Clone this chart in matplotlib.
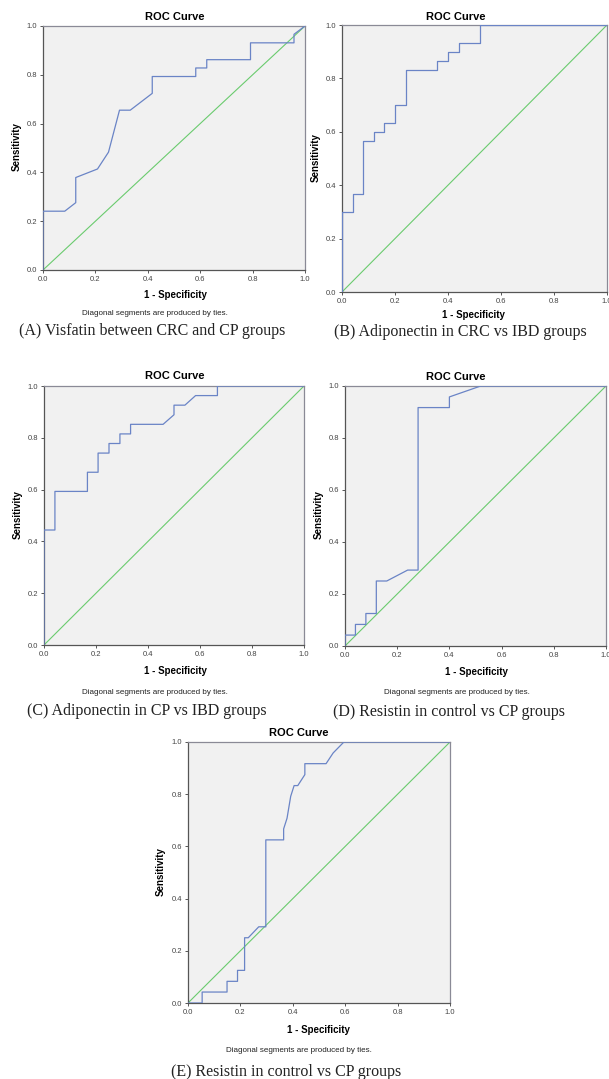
import matplotlib
matplotlib.use('Agg')
import matplotlib.pyplot as plt

# ROC curve points (1 - specificity, sensitivity)
fpr_a = [0, 0, 0.083, 0.125, 0.125, 0.208, 0.25, 0.292, 0.333, 0.417, 0.417, 0.583, 0.583,
         0.625, 0.625, 0.792, 0.792, 0.958, 0.958, 1.0]
tpr_a = [0, 0.241, 0.241, 0.276, 0.379, 0.414, 0.483, 0.655, 0.655, 0.724, 0.793, 0.793, 0.828,
         0.828, 0.862, 0.862, 0.931, 0.931, 0.966, 1.0]

fpr_b = [0, 0, 0.04, 0.04, 0.08, 0.08, 0.12, 0.12, 0.16, 0.16, 0.2, 0.2, 0.24, 0.24, 0.36, 0.36,
         0.4, 0.4, 0.44, 0.44, 0.52, 0.52, 1.0]
tpr_b = [0, 0.3, 0.3, 0.367, 0.367, 0.567, 0.567, 0.6, 0.6, 0.633, 0.633, 0.7, 0.7, 0.833, 0.833,
         0.867, 0.867, 0.9, 0.9, 0.933, 0.933, 1.0, 1.0]

fpr_c = [0, 0, 0.042, 0.042, 0.167, 0.167, 0.208, 0.208, 0.25, 0.25, 0.292, 0.292, 0.333, 0.333,
         0.458, 0.5, 0.5, 0.542, 0.583, 0.667, 0.667, 1.0]
tpr_c = [0, 0.444, 0.444, 0.593, 0.593, 0.667, 0.667, 0.741, 0.741, 0.778, 0.778, 0.815, 0.815,
         0.852, 0.852, 0.889, 0.926, 0.926, 0.963, 0.963, 1.0, 1.0]

fpr_d = [0, 0, 0.04, 0.04, 0.08, 0.08, 0.12, 0.12, 0.16, 0.24, 0.28, 0.28, 0.4, 0.4, 0.52, 1.0]
tpr_d = [0, 0.042, 0.042, 0.083, 0.083, 0.125, 0.125, 0.25, 0.25, 0.292, 0.292, 0.917, 0.917,
         0.958, 1.0, 1.0]

fpr_e = [0, 0.054, 0.054, 0.149, 0.149, 0.189, 0.189, 0.216, 0.216, 0.23, 0.27, 0.297, 0.297,
         0.365, 0.365, 0.378, 0.392, 0.405, 0.419, 0.446, 0.446, 0.527, 0.554, 0.595, 1.0]
tpr_e = [0, 0, 0.042, 0.042, 0.083, 0.083, 0.125, 0.125, 0.25, 0.25, 0.292, 0.292, 0.625,
         0.625, 0.667, 0.708, 0.792, 0.833, 0.833, 0.875, 0.917, 0.917, 0.958, 1.0, 1.0]

ticks = [0.0, 0.2, 0.4, 0.6, 0.8, 1.0]
tick_labels = ['0.0', '0.2', '0.4', '0.6', '0.8', '1.0']

captions = ['(A) Visfatin between CRC and CP groups',
            '(B) Adiponectin in CRC vs IBD groups',
            '(C) Adiponectin in CP vs IBD groups',
            '(D) Resistin in control vs CP groups',
            '(E) Resistin in control vs CP groups']

W, H = 609, 1079
fig = plt.figure(figsize=(W / 100, H / 100), dpi=100)
fig.patch.set_facecolor('white')

SANS = 'Liberation Sans'
SERIF = 'Liberation Serif'
BLUE = '#6a84c6'
GREEN = '#6acb6e'


def ftext(x, y, s, **kw):
    # x, y in pixels from top-left
    fig.text(x / W, 1 - y / H, s, ha='center', va='center', **kw)


def panel(box, fpr, tpr, title_x, title_y, ylab, xlab, note, cap):
    l, r, t, b = box
    ax = fig.add_axes([l / W, 1 - b / H, (r - l) / W, (b - t) / H])
    ax.set_facecolor('#f1f1f1')
    ax.plot([0, 1], [0, 1], color=GREEN, lw=0.8, zorder=2)
    ax.plot(fpr, tpr, color=BLUE, lw=0.9, zorder=3)
    ax.set_xlim(0, 1)
    ax.set_ylim(0, 1)
    ax.set_xticks(ticks)
    ax.set_yticks(ticks)
    ax.set_xticklabels(tick_labels, fontfamily=SANS, fontsize=5.5, color='#444444')
    ax.set_yticklabels(tick_labels, fontfamily=SANS, fontsize=5.5, color='#444444')
    ax.tick_params(direction='out', length=2.5, width=0.7, color='#555555', pad=1.5)
    for side in ['left', 'bottom']:
        ax.spines[side].set_color('#555555')
        ax.spines[side].set_linewidth(0.9)
    for side in ['top', 'right']:
        ax.spines[side].set_color('#8a8a96')
        ax.spines[side].set_linewidth(0.9)
    ftext(title_x, title_y, 'ROC Curve', fontfamily=SANS, fontsize=8, fontweight='bold')
    ftext(ylab[0], ylab[1], 'Sensitivity', fontfamily=SANS, fontsize=7,
          fontweight='bold', rotation=90)
    ftext(xlab[0], xlab[1], '1 - Specificity', fontfamily=SANS, fontsize=7, fontweight='bold')
    if note is not None:
        ftext(note[0], note[1], 'Diagonal segments are produced by ties.',
              fontfamily=SANS, fontsize=5.8, color='#222222')
    ftext(cap[0], cap[1], cap[2], fontfamily=SERIF, fontsize=11.5, color='#222222')
    return ax


panel((43, 305, 26, 270), fpr_a, tpr_a, 175, 17, (17, 147), (175, 295), (155, 314),
      (152, 331, captions[0]))
panel((342, 607, 25, 292), fpr_b, tpr_b, 456, 17, (316, 158), (473, 315), None,
      (460, 332, captions[1]))
panel((44, 304, 386, 645), fpr_c, tpr_c, 175, 376, (18, 515), (175, 671), (155, 692),
      (147, 711, captions[2]))
panel((345, 606, 386, 646), fpr_d, tpr_d, 456, 377, (319, 515), (476, 672), (457, 693),
      (449, 712, captions[3]))
panel((188, 450, 742, 1003), fpr_e, tpr_e, 299, 733, (161, 872), (318, 1030), (299, 1050),
      (286, 1072, captions[4]))

fig.savefig('out.png', dpi=100)
